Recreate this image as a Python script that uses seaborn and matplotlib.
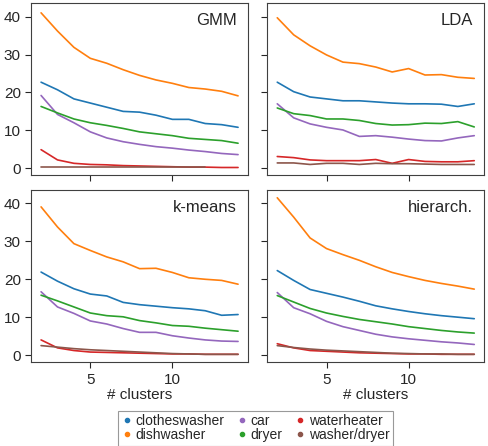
import numpy as np
import pandas as pd
import seaborn as sns
import matplotlib.pyplot as plt
from matplotlib.lines import Line2D

clusters = list(range(2, 15))
appliances = ['clotheswasher', 'dishwasher', 'car', 'dryer', 'waterheater', 'washer/dryer']
colors = ['#1f77b4', '#ff7f0e', '#9467bd', '#2ca02c', '#d62728', '#8c564b']
methods = ['GMM', 'LDA', 'k-means', 'hierarch.']

nan = np.nan

gmm_clotheswasher = [22.7, 20.7, 18.3, 17.2, 16.1, 15.0, 14.8, 14.0, 12.9, 12.9, 11.8, 11.5, 10.8]
gmm_dishwasher = [41.0, 36.2, 31.9, 29.0, 27.7, 26.0, 24.5, 23.3, 22.4, 21.3, 20.9, 20.3, 19.1]
gmm_car = [19.2, 14.2, 12.0, 9.6, 8.0, 7.0, 6.3, 5.7, 5.3, 4.8, 4.4, 3.9, 3.6]
gmm_dryer = [16.3, 14.6, 13.0, 12.0, 11.3, 10.5, 9.6, 9.1, 8.6, 7.9, 7.6, 7.3, 6.6]
gmm_waterheater = [4.9, 2.2, 1.3, 1.0, 0.9, 0.7, 0.6, 0.5, 0.4, 0.3, 0.3, 0.2, 0.2]
gmm_washerdryer = [0.3, 0.3, 0.3, 0.3, 0.3, 0.3, 0.3, 0.3, 0.3, 0.3, 0.3, nan, nan]

lda_clotheswasher = [22.7, 20.2, 18.8, 18.3, 17.8, 17.8, 17.5, 17.2, 17.0, 17.0, 16.9, 16.3, 17.0]
lda_dishwasher = [39.7, 35.2, 32.3, 29.9, 28.0, 27.6, 26.7, 25.4, 26.3, 24.6, 24.7, 24.0, 23.7]
lda_car = [17.0, 13.3, 11.7, 10.8, 10.1, 8.4, 8.6, 8.2, 7.7, 7.3, 7.2, 8.0, 8.6]
lda_dryer = [15.9, 14.4, 13.9, 13.0, 13.0, 12.6, 11.8, 11.4, 11.5, 11.9, 11.8, 12.3, 10.9]
lda_waterheater = [3.1, 2.8, 2.2, 2.0, 2.0, 2.0, 2.3, 1.3, 2.3, 1.8, 1.7, 1.7, 2.0]
lda_washerdryer = [1.4, 1.4, 1.0, 1.3, 1.3, 1.0, 1.3, 1.2, 1.2, 1.1, 1.0, 1.0, 1.0]

km_clotheswasher = [21.9, 19.5, 17.5, 16.1, 15.6, 13.9, 13.3, 12.9, 12.5, 12.2, 11.7, 10.5, 10.7]
km_dishwasher = [39.1, 33.8, 29.4, 27.6, 25.9, 24.6, 22.8, 22.9, 21.8, 20.4, 20.0, 19.7, 18.7]
km_car = [16.7, 12.7, 11.0, 9.0, 8.2, 7.0, 6.0, 6.0, 5.1, 4.5, 4.0, 3.7, 3.6]
km_dryer = [15.8, 14.3, 12.7, 11.1, 10.4, 10.1, 9.1, 8.5, 7.8, 7.6, 7.1, 6.7, 6.3]
km_waterheater = [4.0, 1.9, 1.2, 0.8, 0.7, 0.6, 0.5, 0.4, 0.3, 0.3, 0.2, 0.2, 0.2]
km_washerdryer = [2.5, 2.1, 1.7, 1.4, 1.2, 1.0, 0.8, 0.6, 0.4, 0.3, 0.2, 0.2, 0.2]

hc_clotheswasher = [22.3, 19.7, 17.3, 16.3, 15.3, 14.2, 13.0, 12.2, 11.5, 10.9, 10.4, 10.0, 9.6]
hc_dishwasher = [41.5, 36.4, 30.9, 28.1, 26.5, 25.0, 23.3, 21.8, 20.7, 19.7, 18.9, 18.2, 17.4]
hc_car = [16.5, 12.5, 10.9, 8.9, 7.5, 6.5, 5.5, 4.8, 4.3, 3.9, 3.5, 3.2, 2.8]
hc_dryer = [15.7, 14.0, 12.3, 11.1, 10.2, 9.4, 8.8, 8.2, 7.5, 7.0, 6.5, 6.1, 5.8]
hc_waterheater = [3.0, 1.9, 1.2, 1.0, 0.8, 0.6, 0.5, 0.4, 0.3, 0.3, 0.2, 0.2, 0.2]
hc_washerdryer = [2.5, 2.0, 1.6, 1.3, 1.1, 0.9, 0.7, 0.5, 0.4, 0.3, 0.3, 0.2, 0.2]

series = {
    'GMM': [gmm_clotheswasher, gmm_dishwasher, gmm_car, gmm_dryer, gmm_waterheater, gmm_washerdryer],
    'LDA': [lda_clotheswasher, lda_dishwasher, lda_car, lda_dryer, lda_waterheater, lda_washerdryer],
    'k-means': [km_clotheswasher, km_dishwasher, km_car, km_dryer, km_waterheater, km_washerdryer],
    'hierarch.': [hc_clotheswasher, hc_dishwasher, hc_car, hc_dryer, hc_waterheater, hc_washerdryer],
}

rows = []
for m in methods:
    for app, vals in zip(appliances, series[m]):
        for k, v in zip(clusters, vals):
            rows.append({'method': m, 'appliance': app, 'k': k, 'value': v})
df = pd.DataFrame(rows).dropna()

sns.set_theme(style="ticks")
plt.rcParams['font.family'] = ['Liberation Sans', 'DejaVu Sans']
palette = dict(zip(appliances, colors))

fig, axes = plt.subplots(2, 2, figsize=(4.88, 4.46), dpi=100, sharex=True, sharey=True)
fig.subplots_adjust(left=0.064, right=0.992, top=0.993, bottom=0.188, wspace=0.09, hspace=0.085)

for ax, m in zip(axes.flat, methods):
    sns.lineplot(data=df[df.method == m], x='k', y='value', hue='appliance',
                 hue_order=appliances, palette=palette, linewidth=1.2,
                 legend=False, ax=ax)
    ax.text(0.95, 0.94, m, transform=ax.transAxes, ha='right', va='top', fontsize=12)
    ax.set_ylabel('')
    ax.set_xlabel('')
    ax.set_xticks([5, 10])
    ax.set_yticks([0, 10, 20, 30, 40])
    ax.tick_params(labelsize=11, length=4, width=0.8)
    for sp in ax.spines.values():
        sp.set_linewidth(0.8)
        sp.set_color('.25')

for ax in axes[1]:
    ax.set_xlabel('# clusters', fontsize=11, labelpad=1)

handles = [Line2D([], [], color=c, marker='o', linestyle='', markersize=3) for c in colors]
leg = fig.legend(handles, appliances, loc='upper center', bbox_to_anchor=(0.523, 0.079), ncol=3,
                 fontsize=10, frameon=True, fancybox=False, handletextpad=0.2,
                 columnspacing=0.9, labelspacing=0.0, borderpad=0.25, handlelength=0.8,
                 borderaxespad=0)
leg.get_frame().set_edgecolor('0.5')
leg.get_frame().set_linewidth(0.8)

plt.savefig('out.png', dpi=100)
